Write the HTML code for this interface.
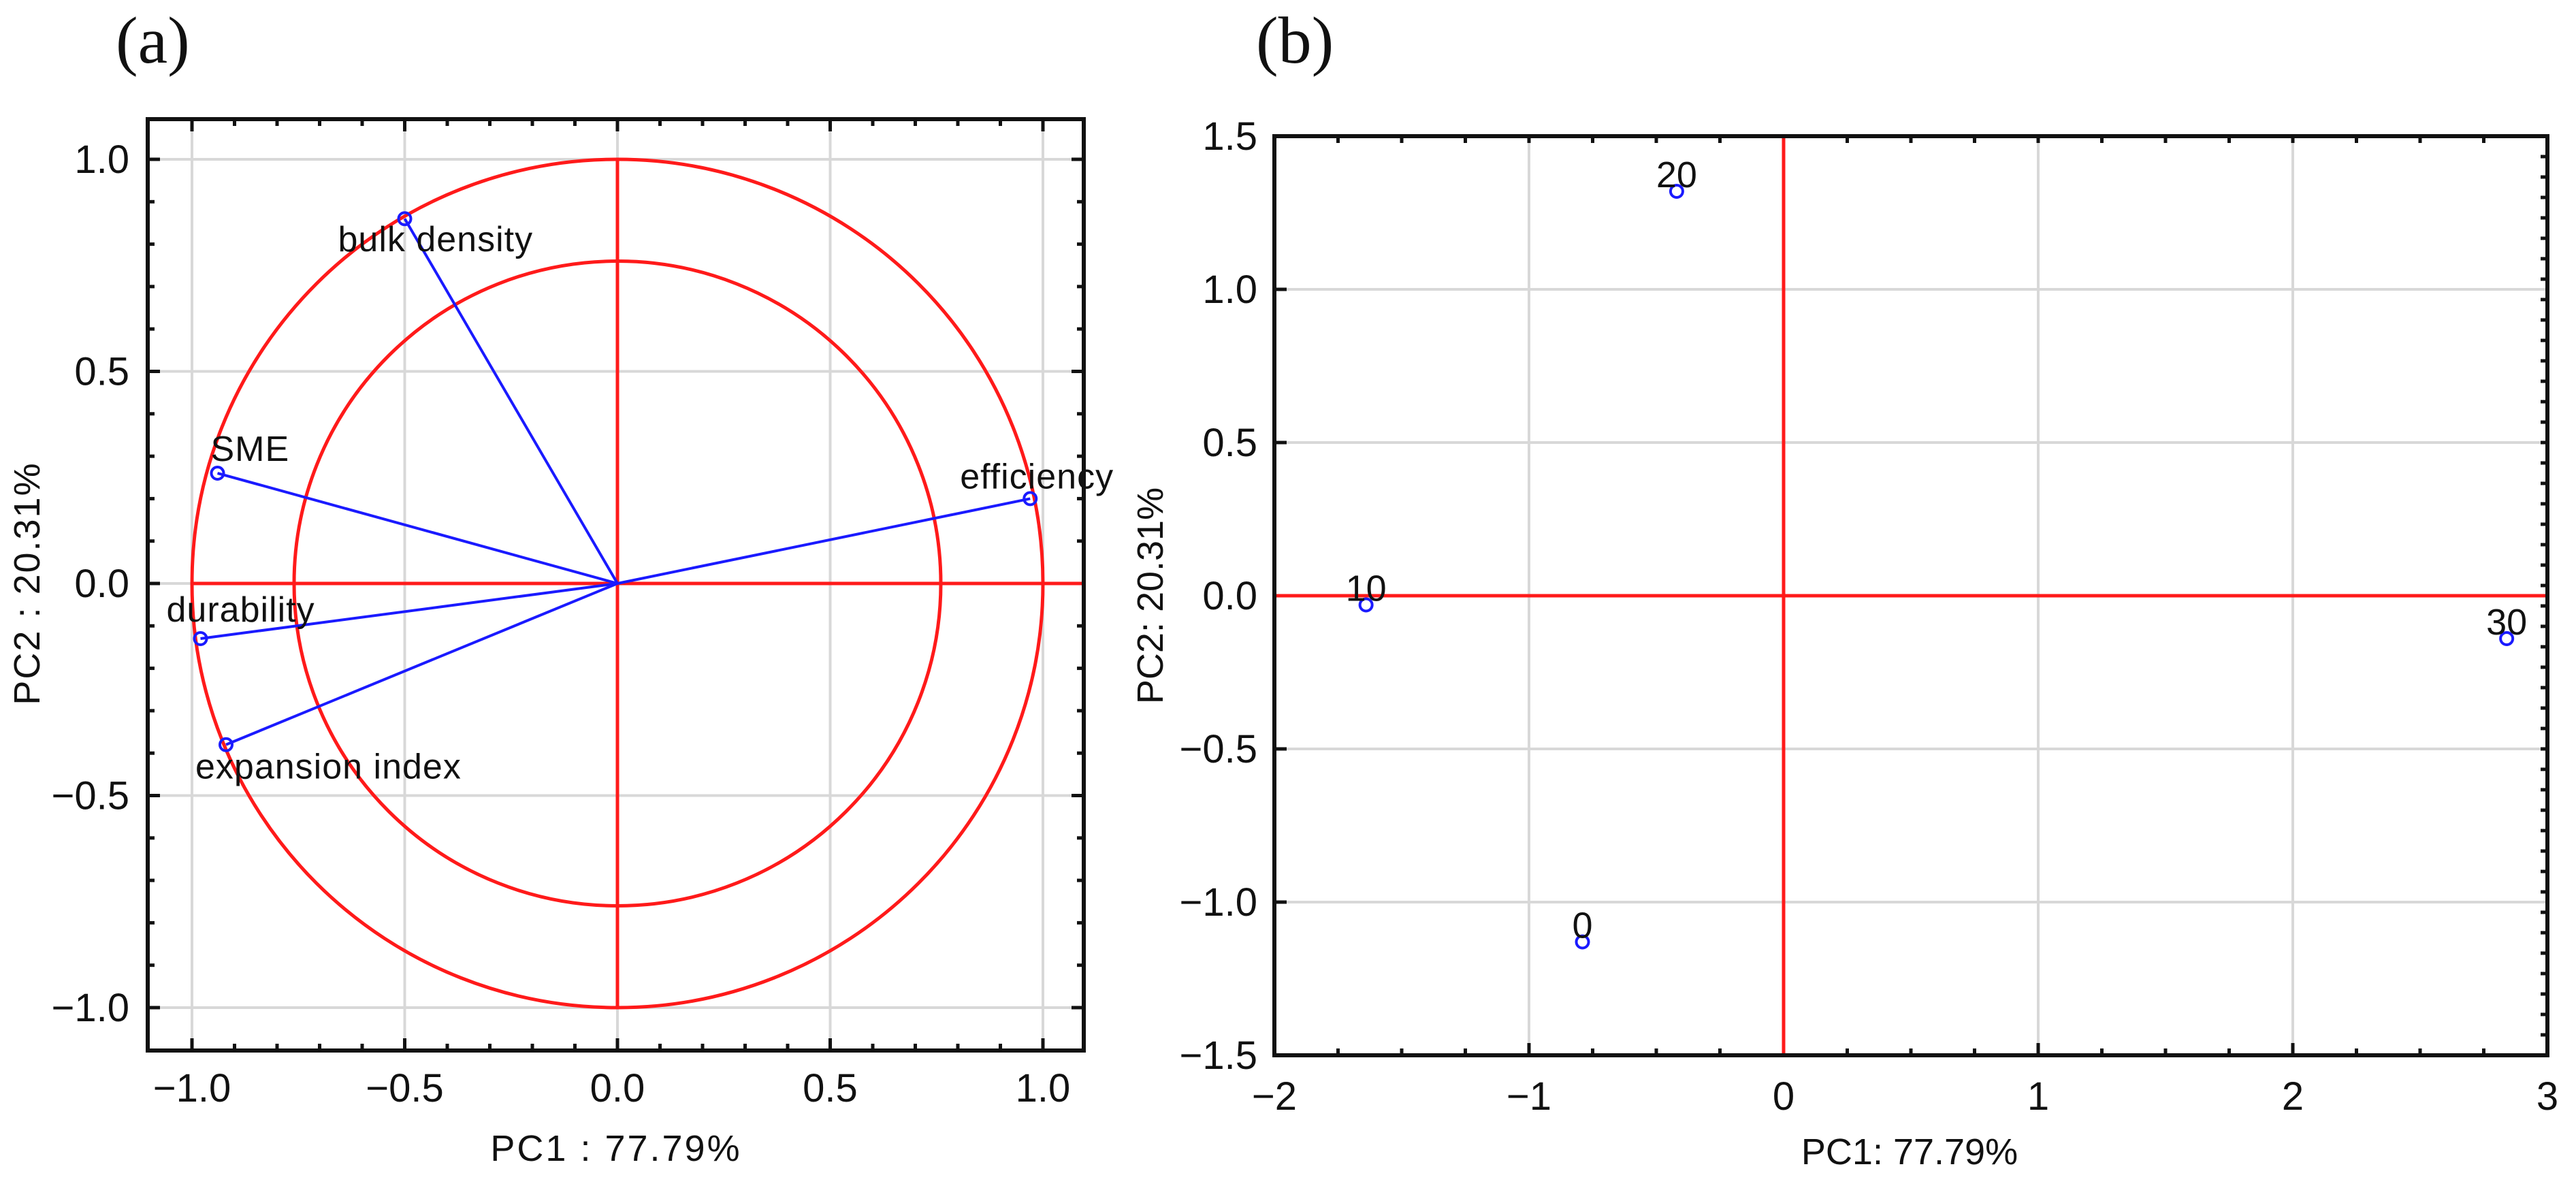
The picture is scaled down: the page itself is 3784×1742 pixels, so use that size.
<!DOCTYPE html>
<html><head><meta charset="utf-8">
<style>
html,body{margin:0;padding:0;background:#fff;}
svg{display:block;}
text{font-family:"Liberation Sans",sans-serif;fill:#111;}
</style></head>
<body>
<svg id="fig" width="3784" height="1742" viewBox="0 0 3784 1742" xmlns="http://www.w3.org/2000/svg">
<text x="170" y="92" style="font-family:'Liberation Serif',serif;font-size:98px">(a)</text>
<text x="1845" y="92" style="font-family:'Liberation Serif',serif;font-size:98px">(b)</text>
<g id="pa"></g>
<g id="pb"></g>
</svg>
<script>
// Panel (a) data
const loadNames = ["bulk density","SME","efficiency","durability","expansion index"];
const loadPC1 = [-0.50,-0.94,0.97,-0.98,-0.92];
const loadPC2 = [0.86,0.26,0.20,-0.13,-0.38];
const aTicks = [-1.0,-0.5,0.0,0.5,1.0];
const aTickLabels = ["\u22121.0","\u22120.5","0.0","0.5","1.0"];
const circleRadii = [1.0,0.76];
// Panel (b) data
const scoreNames = ["20","10","30","0"];
const scorePC1 = [-0.42,-1.64,2.84,-0.79];
const scorePC2 = [1.32,-0.03,-0.14,-1.13];
const bXTicks = [-2,-1,0,1,2,3];
const bXTickLabels = ["\u22122","\u22121","0","1","2","3"];
const bYTicks = [1.5,1.0,0.5,0.0,-0.5,-1.0,-1.5];
const bYTickLabels = ["1.5","1.0","0.5","0.0","\u22120.5","\u22121.0","\u22121.5"];

const NS="http://www.w3.org/2000/svg";
function mk(parent,tag,attrs,txt){const e=document.createElementNS(NS,tag);for(const k in attrs)e.setAttribute(k,attrs[k]);if(txt!==undefined)e.textContent=txt;parent.appendChild(e);return e;}

// ---- Panel A ----
const pa=document.getElementById('pa');
const ax=v=>907+v*625, ay=v=>857-v*623;
const A={l:217,t:175,r:1592,b:1543};
aTicks.forEach((t,i)=>{
  const gx=mk(pa,'line',{x1:ax(t),x2:ax(t),y1:A.t,y2:A.b,stroke:'#d8d8d8','stroke-width':4});
  
  
  const gy=mk(pa,'line',{x1:A.l,x2:A.r,y1:ay(t),y2:ay(t),stroke:'#d8d8d8','stroke-width':4});
  
  
  const lx=mk(pa,'text',{x:ax(t),y:1618,'text-anchor':'middle','font-size':58},aTickLabels[i]);
  
  
  const ly=mk(pa,'text',{x:190,y:ay(t)+20,'text-anchor':'end','font-size':58},aTickLabels[i]);
  
  
});
for(let k=-10;k<=10;k++){
  const v=k/10, len=(k%5===0)?18:10;
  mk(pa,'line',{x1:ax(v),x2:ax(v),y1:A.b,y2:A.b-len,stroke:'#111','stroke-width':5});
  mk(pa,'line',{x1:ax(v),x2:ax(v),y1:A.t,y2:A.t+len,stroke:'#111','stroke-width':5});
  mk(pa,'line',{x1:A.l,x2:A.l+len,y1:ay(v),y2:ay(v),stroke:'#111','stroke-width':5});
  mk(pa,'line',{x1:A.r,x2:A.r-len,y1:ay(v),y2:ay(v),stroke:'#111','stroke-width':5});
}
circleRadii.forEach(r=>{
  const c=mk(pa,'ellipse',{cx:ax(0),cy:ay(0),rx:r*625,ry:r*623,fill:'none',stroke:'#ff1a1a','stroke-width':5});
  
  
});
const ha=mk(pa,'line',{x1:ax(-1),x2:ax(1.1),y1:ay(0),y2:ay(0),stroke:'#ff1a1a','stroke-width':5});


const va=mk(pa,'line',{x1:ax(0),x2:ax(0),y1:ay(1),y2:ay(-1),stroke:'#ff1a1a','stroke-width':5});


const labOff=[[-98,48],[-10,-18],[-103,-15],[-50,-25],[-45,50]];
loadNames.forEach((n,i)=>{
  const x=ax(loadPC1[i]), y=ay(loadPC2[i]);
  const v=mk(pa,'line',{x1:ax(0),y1:ay(0),x2:x,y2:y,stroke:'#1a1aff','stroke-width':4});
  
  
  const p=mk(pa,'circle',{cx:x,cy:y,r:9,fill:'none',stroke:'#1a1aff','stroke-width':4});
  
  
  const t=mk(pa,'text',{x:x+labOff[i][0],y:y+labOff[i][1],'font-size':52,'letter-spacing':'1'},n);
  
  
});
const fa=mk(pa,'rect',{x:A.l,y:A.t,width:A.r-A.l,height:A.b-A.t,fill:'none',stroke:'#111','stroke-width':6});


const xta=mk(pa,'text',{x:905,y:1705,'text-anchor':'middle','font-size':54,'letter-spacing':'3'},'PC1 : 77.79%');


const yta=mk(pa,'text',{x:0,y:0,'text-anchor':'middle','font-size':54,'letter-spacing':'2',transform:'translate(58,857) rotate(-90)'},'PC2 : 20.31%');



// ---- Panel B ----
const pb=document.getElementById('pb');
const B={l:1872,t:200,r:3742,b:1550};
const bx=v=>B.l+(v+2)*374, by=v=>B.t+(1.5-v)*450;
bXTicks.forEach((t,i)=>{
  if(i>0&&i<bXTicks.length-1){
    const g=mk(pb,'line',{x1:bx(t),x2:bx(t),y1:B.t,y2:B.b,stroke:'#d8d8d8','stroke-width':4});
    
    
  }
  mk(pb,'line',{x1:bx(t),x2:bx(t),y1:B.b,y2:B.b-18,stroke:'#111','stroke-width':5});
  const l=mk(pb,'text',{x:bx(t),y:1630,'text-anchor':'middle','font-size':58},bXTickLabels[i]);
  
  
});
bYTicks.forEach((t,i)=>{
  if(i>0&&i<bYTicks.length-1){
    const g=mk(pb,'line',{x1:B.l,x2:B.r,y1:by(t),y2:by(t),stroke:'#d8d8d8','stroke-width':4});
    
    
  }
  mk(pb,'line',{x1:B.l,x2:B.l+18,y1:by(t),y2:by(t),stroke:'#111','stroke-width':5});
  const l=mk(pb,'text',{x:1847,y:by(t)+20,'text-anchor':'end','font-size':58},bYTickLabels[i]);
  
  
});
for(let v=-1.75;v<3;v+=0.25){mk(pb,'line',{x1:bx(v),x2:bx(v),y1:B.t,y2:B.t+10,stroke:'#111','stroke-width':5});mk(pb,'line',{x1:bx(v),x2:bx(v),y1:B.b,y2:B.b-10,stroke:'#111','stroke-width':5});}
for(let y=B.t+30;y<B.b;y+=30){mk(pb,'line',{x1:B.r,x2:B.r-10,y1:y,y2:y,stroke:'#111','stroke-width':5});}
const hb=mk(pb,'line',{x1:B.l,x2:B.r,y1:by(0),y2:by(0),stroke:'#ff1a1a','stroke-width':5});


const vb=mk(pb,'line',{x1:bx(0),x2:bx(0),y1:B.t,y2:B.b,stroke:'#ff1a1a','stroke-width':5});


scoreNames.forEach((n,i)=>{
  const x=bx(scorePC1[i]), y=by(scorePC2[i]);
  const p=mk(pb,'circle',{cx:x,cy:y,r:9,fill:'none',stroke:'#1a1aff','stroke-width':4});
  
  
  const t=mk(pb,'text',{x:x,y:y-6,'text-anchor':'middle','font-size':54},n);
  
  
});
const fb=mk(pb,'rect',{x:B.l,y:B.t,width:B.r-B.l,height:B.b-B.t,fill:'none',stroke:'#111','stroke-width':6});


const xtb=mk(pb,'text',{x:2805,y:1710,'text-anchor':'middle','font-size':54},'PC1: 77.79%');


const ytb=mk(pb,'text',{x:0,y:0,'text-anchor':'middle','font-size':54,transform:'translate(1708,875) rotate(-90)'},'PC2: 20.31%');


</script>
</body></html>
